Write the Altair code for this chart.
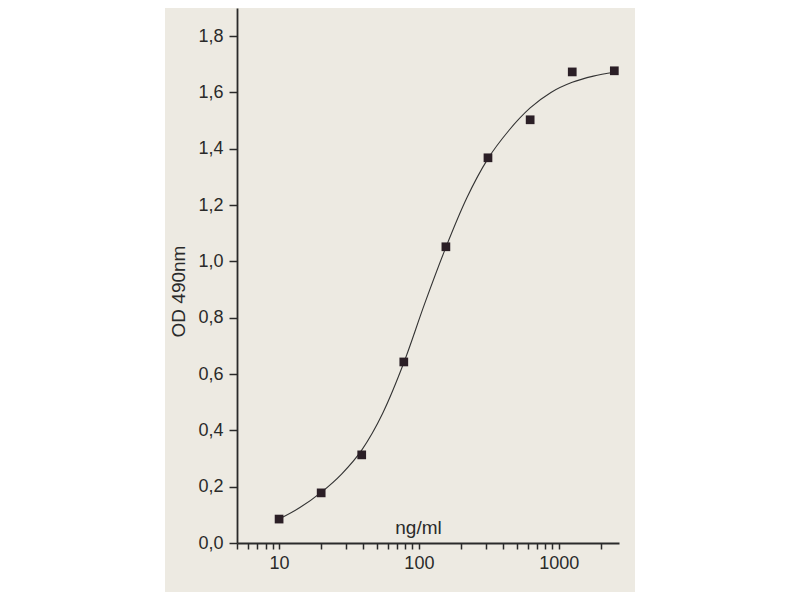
import altair as alt
import pandas as pd

# measured points (ng/ml, OD 490nm)
conc = [10, 20, 39, 78, 156, 312, 625, 1250, 2500]
od = [0.085, 0.178, 0.313, 0.643, 1.052, 1.368, 1.503, 1.673, 1.677]

# fitted curve
curve_x = [10, 14, 20, 28, 39, 55, 78, 110, 156, 220, 312, 440, 625, 880, 1250, 1770, 2500]
curve_y = [0.085, 0.125, 0.18, 0.245, 0.33, 0.46, 0.64, 0.85, 1.05, 1.225, 1.365, 1.465,
           1.545, 1.600, 1.636, 1.658, 1.672]

x_ticks = [5, 6, 7, 8, 9, 10, 20, 30, 40, 50, 60, 70, 80, 90, 100, 200, 300, 400, 500,
           600, 700, 800, 900, 1000, 2000]
y_ticks = [round(i * 0.1, 1) for i in range(20)]

pts = pd.DataFrame({"conc": conc, "od": od})
crv = pd.DataFrame({"conc": curve_x, "od": curve_y})

FONT = "Liberation Sans"
INK = "#2a2a2a"

xscale = alt.Scale(type="log", domain=[5, 2700], nice=False)
yscale = alt.Scale(domain=[0, 1.9], nice=False, zero=True)

xaxis = alt.Axis(
    values=x_ticks,
    labelExpr="(datum.value==10||datum.value==100||datum.value==1000) ? toString(datum.value) : ''",
    labelOverlap=False, labelFlush=False, grid=False,
    title="ng/ml", titleX=181, titleY=-10, titleAlign="center", titleBaseline="alphabetic",
    titleFont=FONT, titleFontSize=19, titleFontWeight="normal", titleColor=INK,
    labelFont=FONT, labelFontSize=18, labelColor=INK, labelPadding=5,
    domainColor=INK, domainWidth=1.8, tickColor=INK, tickWidth=1.5, tickSize=6,
    zindex=1,
)
yaxis = alt.Axis(
    values=y_ticks,
    labelExpr="(round(datum.value*10)%2==0) ? replace(format(datum.value, '.1f'), '.', ',') : ''",
    labelOverlap=False, labelFlush=False, grid=False,
    title="OD 490nm", titleX=-59, titleY=283, titleAngle=270, titleAlign="center",
    titleBaseline="middle",
    titleFont=FONT, titleFontSize=19, titleFontWeight="normal", titleColor=INK,
    labelFont=FONT, labelFontSize=18, labelColor=INK, labelPadding=6,
    domainColor=INK, domainWidth=1.8, tickColor=INK, tickWidth=1.5, tickSize=8,
    zindex=1,
)

panel = alt.Chart(pd.DataFrame({"a": [0]})).mark_rect(color="#EDEAE2").encode(
    x=alt.value(-72), x2=alt.value(398), y=alt.value(0), y2=alt.value(584)
)

line = alt.Chart(crv).mark_line(color="#333333", strokeWidth=1.1, interpolate="monotone").encode(
    x=alt.X("conc:Q", scale=xscale, axis=xaxis),
    y=alt.Y("od:Q", scale=yscale, axis=yaxis),
)

points = alt.Chart(pts).mark_square(color="#2b1f26", opacity=1, size=76).encode(
    x=alt.X("conc:Q", scale=xscale),
    y=alt.Y("od:Q", scale=yscale),
)

chart = alt.layer(panel, line, points).properties(
    width=382, height=535,
    autosize=alt.AutoSizeParams(type="none"),
    padding={"left": 229, "top": 0, "right": 20, "bottom": 49},
    background="white",
).configure_view(stroke=None)

chart.save("out.html", embed_options={"renderer": "svg", "actions": False})
